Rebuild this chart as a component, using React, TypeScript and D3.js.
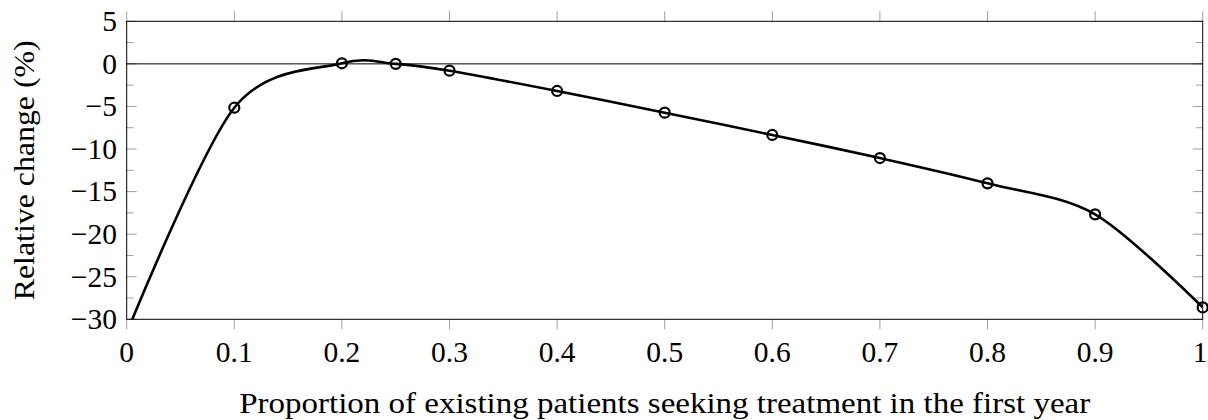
import React from "react";
import * as d3 from "d3";

const xValues = [0, 0.1, 0.2, 0.25, 0.3, 0.4, 0.5, 0.6, 0.7, 0.8, 0.9, 1.0];
const yValues = [-31.6, -5.15, 0.07, 0.0, -0.8, -3.18, -5.73, -8.35, -11.06, -14.03, -17.67, -28.6];
const xTicks = [0, 0.1, 0.2, 0.3, 0.4, 0.5, 0.6, 0.7, 0.8, 0.9, 1];
const xTickLabels = ["0", "0.1", "0.2", "0.3", "0.4", "0.5", "0.6", "0.7", "0.8", "0.9", "1"];
const yTicks = [5, 0, -5, -10, -15, -20, -25, -30];
const yTickLabels = ["5", "0", "\u22125", "\u221210", "\u221215", "\u221220", "\u221225", "\u221230"];
const yMinorTicks = [2.5, -2.5, -7.5, -12.5, -17.5, -22.5, -27.5];
const xLabel = "Proportion of existing patients seeking treatment in the first year";
const yLabel = "Relative change (%)";

const W = 1208;
const H = 420;
const L = 126.7;
const R = 1202.7;
const T = 21.3;
const B = 319.3;
const FS = 29.5;
const TICK_GRAY = "#a0a0a0";
const textStyle: React.CSSProperties = { fontFamily: '"Liberation Serif"', fontSize: FS };

export default function App() {
  const x = d3.scaleLinear().domain([0, 1]).range([L, R]);
  const y = d3.scaleLinear().domain([-30, 5]).range([B, T]);
  const pts: [number, number][] = xValues.map((v, i) => [v, yValues[i]]);
  const line = d3
    .line<[number, number]>()
    .x((d) => x(d[0]))
    .y((d) => y(d[1]))
    .curve(d3.curveCardinal.tension(0.084));
  const markerPts = pts.filter((d) => d[1] >= -30 && d[1] <= 5);

  return (
    <svg width={W} height={H} style={{ position: "absolute", left: 0, top: 0, background: "#fff" }}>
      <defs>
        <clipPath id="plotclip">
          <rect x={L} y={T} width={R - L} height={B - T} />
        </clipPath>
      </defs>
      <rect x={0} y={0} width={W} height={H} fill="#fff" />

      {xTicks.map((t) => (
        <g key={"xt" + t}>
          <line x1={x(t)} x2={x(t)} y1={T} y2={T - 10} stroke={TICK_GRAY} strokeWidth={1} />
          <line x1={x(t)} x2={x(t)} y1={B} y2={B + 10} stroke={TICK_GRAY} strokeWidth={1} />
        </g>
      ))}
      {yTicks.map((t) => (
        <g key={"yt" + t}>
          <line x1={L} x2={L + 10} y1={y(t)} y2={y(t)} stroke={TICK_GRAY} strokeWidth={1} />
          <line x1={R} x2={R - 10} y1={y(t)} y2={y(t)} stroke={TICK_GRAY} strokeWidth={1} />
        </g>
      ))}
      {yMinorTicks.map((t) => (
        <g key={"ym" + t}>
          <line x1={L} x2={L + 7} y1={y(t)} y2={y(t)} stroke={TICK_GRAY} strokeWidth={1} />
          <line x1={R} x2={R - 7} y1={y(t)} y2={y(t)} stroke={TICK_GRAY} strokeWidth={1} />
        </g>
      ))}

      <line x1={L} x2={R} y1={y(0)} y2={y(0)} stroke="#000" strokeWidth={1} />

      <path
        d={line(pts) || ""}
        fill="none"
        stroke="#000"
        strokeWidth={2.6}
        clipPath="url(#plotclip)"
      />

      <rect x={L} y={T} width={R - L} height={B - T} fill="none" stroke="#000" strokeWidth={1} />

      {markerPts.map((d, i) => (
        <circle
          key={"m" + i}
          cx={x(d[0])}
          cy={y(d[1])}
          r={5}
          fill="none"
          stroke="#000"
          strokeWidth={2.2}
        />
      ))}

      {xTicks.map((t, i) => {
        const px = x(t);
        const atEdge = px + 8 > W;
        return (
          <text
            key={"xl" + t}
            x={atEdge ? W - 0.5 : px}
            y={361.7}
            textAnchor={atEdge ? "end" : "middle"}
            style={textStyle}
            fill="#000"
          >
            {xTickLabels[i]}
          </text>
        );
      })}
      {yTicks.map((t, i) => (
        <text key={"yl" + t} x={117} y={y(t) + 9.8} textAnchor="end" style={textStyle} fill="#000">
          {yTickLabels[i]}
        </text>
      ))}

      <text
        x={(L + R) / 2}
        y={413.3}
        textAnchor="middle"
        style={textStyle}
        fill="#000"
        textLength={851}
        lengthAdjust="spacingAndGlyphs"
      >
        {xLabel}
      </text>
      <text
        transform={`translate(33.5, ${(T + B) / 2}) rotate(-90)`}
        textAnchor="middle"
        style={textStyle}
        fill="#000"
        textLength={260}
        lengthAdjust="spacingAndGlyphs"
      >
        {yLabel}
      </text>
    </svg>
  );
}
